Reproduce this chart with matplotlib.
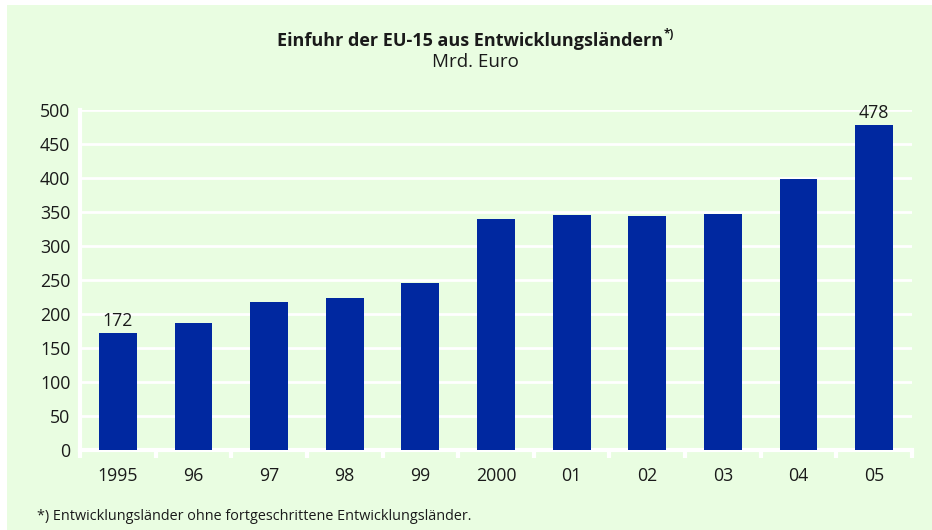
import matplotlib.pyplot as plt
import matplotlib.patches as mpatches
import numpy as np

years = ['1995', '96', '97', '98', '99', '2000', '01', '02', '03', '04', '05']
imports = [172, 187, 218, 224, 246, 340, 346, 344, 347, 399, 478]
labelled = {0: '172', 10: '478'}

bg = '#e9fde1'
bar_col = '#0028a0'
txt = '#1a1a1a'

plt.rcParams['font.family'] = ['Open Sans', 'DejaVu Sans']

fig = plt.figure(figsize=(9.32, 5.30), dpi=100)
fig.patch.set_facecolor('white')
fig.patches.append(mpatches.Rectangle((7 / 932, 0), 1, 1 - 5 / 530,
                                      transform=fig.transFigure, facecolor=bg,
                                      edgecolor='none', zorder=-10))

ax = fig.add_axes([80 / 932, 1 - 450 / 530, 832 / 932, 340 / 530])
ax.set_facecolor(bg)

x = np.arange(len(years))
ax.bar(x, imports, width=0.5, color=bar_col, zorder=3)
for i, lab in labelled.items():
    ax.text(x[i], imports[i] + 5, lab, ha='center', va='bottom', fontsize=12.8, color=txt)

ax.set_xlim(-0.5, len(years) - 0.5)
ax.set_ylim(0, 500)
ax.set_yticks(np.arange(0, 501, 50))
ax.yaxis.grid(True, color='white', linewidth=2, zorder=1)
ax.set_axisbelow(True)

ax.set_xticks(x)
ax.set_xticklabels(years, fontsize=12.8, color=txt)
ax.set_xticks(np.arange(-0.5, len(years)), minor=True)
ax.tick_params(axis='x', which='major', length=0, pad=12)
ax.tick_params(axis='x', which='minor', length=6, width=3, color='white', direction='out')
ax.tick_params(axis='y', length=0, pad=7, labelsize=12.8, labelcolor=txt)

for s in ['top', 'right']:
    ax.spines[s].set_visible(False)
ax.spines['left'].set_color('white')
ax.spines['left'].set_linewidth(3)
ax.spines['bottom'].set_color('white')
ax.spines['bottom'].set_linewidth(3)

title = fig.text(470 / 932, 1 - 41 / 530, 'Einfuhr der EU-15 aus Entwicklungsländern',
                 ha='center', va='center', fontsize=13, fontweight='bold', color=txt)
fig.canvas.draw()
bb = title.get_window_extent()
fig.text((bb.x1 + 1) / 932, 1 - 35 / 530, '*)', ha='left', va='center',
         fontsize=8.5, fontweight='bold', color=txt)
fig.text(475 / 932, 1 - 62 / 530, 'Mrd. Euro', ha='center', va='center', fontsize=13.5, color=txt)
fig.text(37 / 932, 1 - 516 / 530,
         '*) Entwicklungsländer ohne fortgeschrittene Entwicklungsländer.',
         ha='left', va='center', fontsize=10.4, color=txt)

fig.savefig('out.png', dpi=100, facecolor=fig.get_facecolor())
